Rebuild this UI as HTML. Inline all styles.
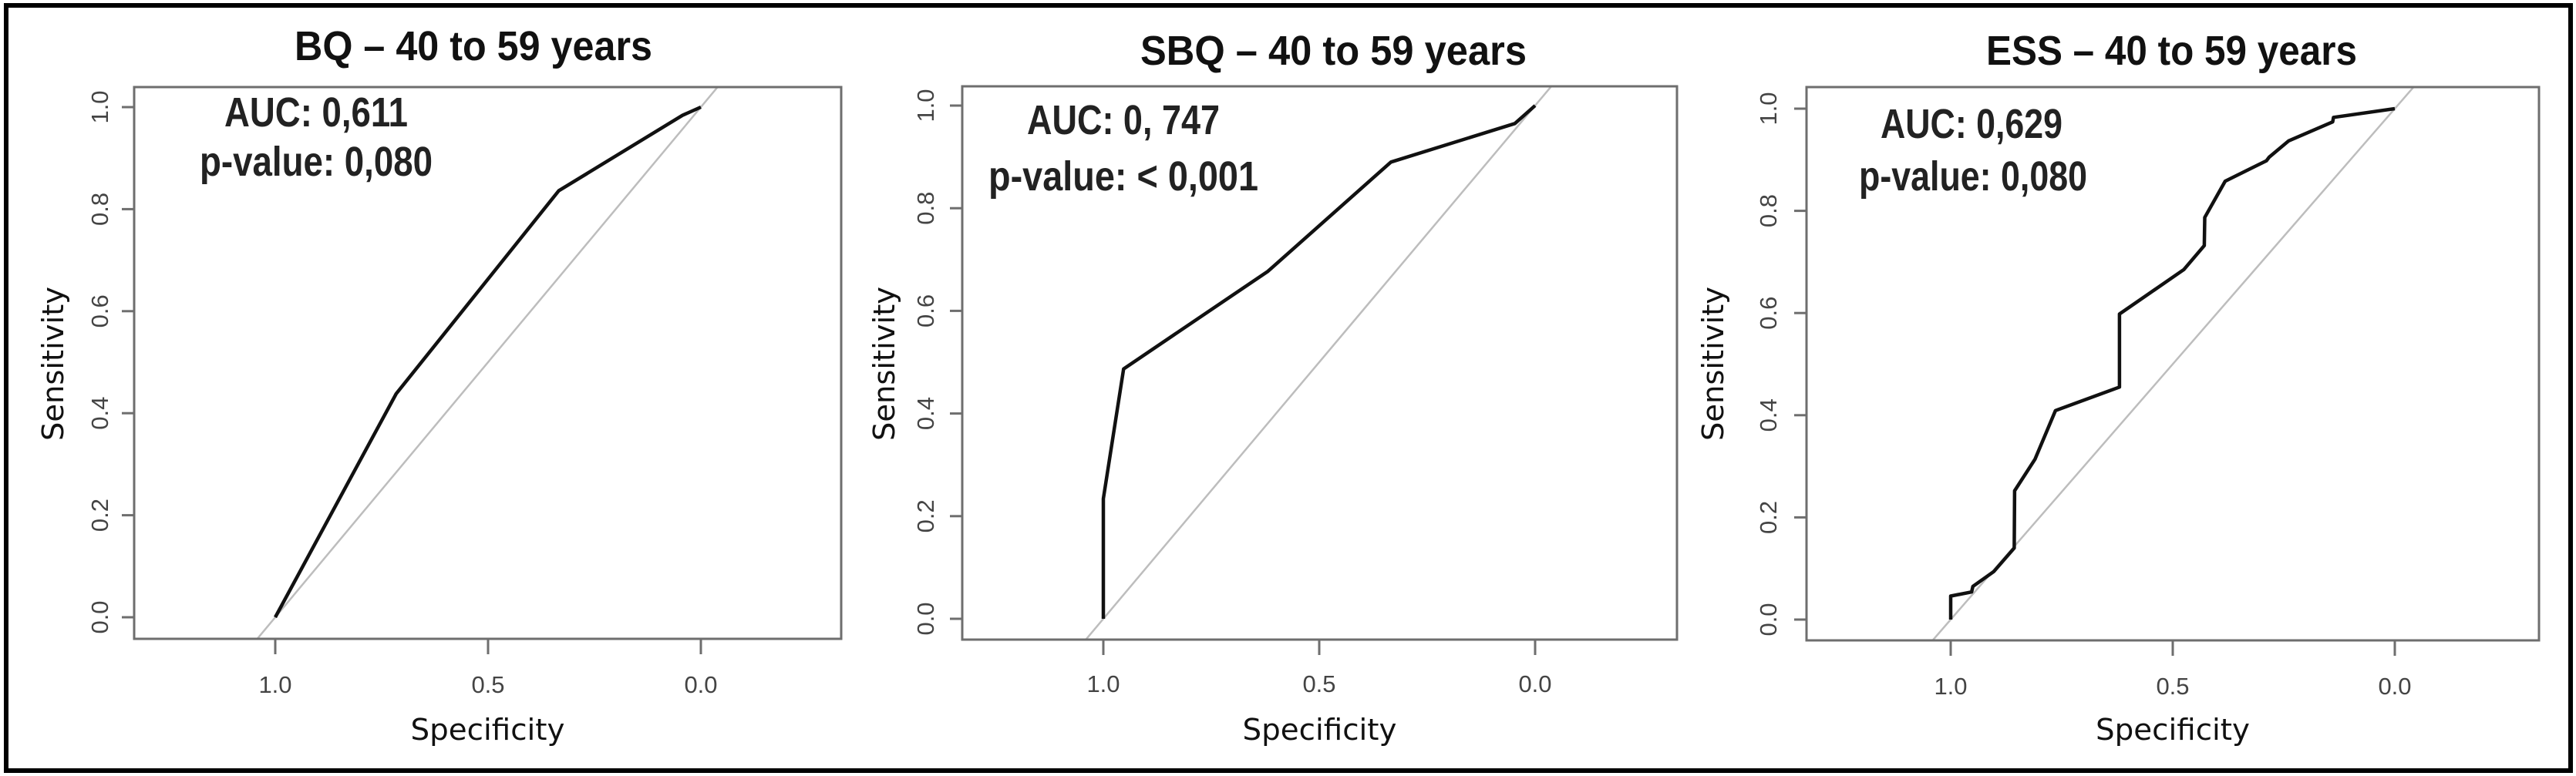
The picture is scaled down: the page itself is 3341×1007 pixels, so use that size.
<!DOCTYPE html>
<html><head><meta charset="utf-8">
<style>
html,body{margin:0;padding:0;background:#fff;}
svg{display:block;}
.title{font-family:"Liberation Sans Narrow","Liberation Sans",sans-serif;font-weight:bold;fill:#111;}
.ann{font-family:"Liberation Sans Narrow","Liberation Sans",sans-serif;font-weight:bold;fill:#222;}
.tick{font-family:"Liberation Sans",sans-serif;fill:#444;font-size:31px;}
.axt{font-family:"DejaVu Sans","Liberation Sans",sans-serif;fill:#111;font-size:38px;}
</style></head>
<body>
<svg id="fig" width="3341" height="1007" viewBox="0 0 3341 1007" xmlns="http://www.w3.org/2000/svg">
<rect x="8" y="7" width="3326" height="993" fill="none" stroke="#000" stroke-width="6"/>
</svg>
<script>
// Panel 1: BQ
const bqSpec = [1, 0.716, 0.334, 0.043, 0];
const bqSens = [0, 0.438, 0.836, 0.984, 1];
// Panel 2: SBQ
const sbqSpec = [1, 1, 0.953, 0.619, 0.334, 0.047, 0];
const sbqSens = [0, 0.234, 0.487, 0.677, 0.890, 0.965, 1];
// Panel 3: ESS
const essSpec = [1,1,0.953,0.950,0.903,0.857,0.856,0.810,0.764,0.620,0.620,0.475,0.429,0.428,0.382,0.289,0.283,0.239,0.140,0.138,0];
const essSens = [0,0.046,0.054,0.065,0.094,0.140,0.252,0.314,0.409,0.455,0.598,0.685,0.732,0.787,0.858,0.898,0.905,0.937,0.974,0.983,1];
const xTicks = [1.0, 0.5, 0.0];
const xTickLabels = ["1.0","0.5","0.0"];
const yTicks = [0, 0.2, 0.4, 0.6, 0.8, 1.0];
const yTickLabels = ["0.0","0.2","0.4","0.6","0.8","1.0"];
const titles = ["BQ \u2013 40 to 59 years","SBQ \u2013 40 to 59 years","ESS \u2013 40 to 59 years"];
const aucLabels = ["AUC: 0,611","AUC: 0, 747","AUC: 0,629"];
const pLabels = ["p-value: 0,080","p-value: < 0,001","p-value: 0,080"];

const NS="http://www.w3.org/2000/svg";
const svg=document.getElementById('fig');
function mk(tag,attrs,parent){const e=document.createElementNS(NS,tag);for(const k in attrs)e.setAttribute(k,attrs[k]);(parent||svg).appendChild(e);return e;}

const layouts=[
 {box:[174,113,1091,829],x1:357,x0:909,y1:139,y0:801,title:[382,846,78],auc:[291,529,164],p:[259,561,228],ytx:140,sens:82,xb:899,spec:960,key:'bq'},
 {box:[1248,112,2175,830],x1:1431,x0:1991,y1:137,y0:803,title:[1479,1980,84],auc:[1332,1582,174],p:[1282,1632,247],ytx:1211,sens:1160,xb:898,spec:960,key:'sbq'},
 {box:[2343,113,3293,831],x1:2530,x0:3106,y1:141,y0:804,title:[2576,3057,84],auc:[2439,2675,179],p:[2411,2707,247],ytx:2304,sens:2235,xb:901,spec:960,key:'ess'}
];
const specs=[bqSpec,sbqSpec,essSpec], senss=[bqSens,sbqSens,essSens];

layouts.forEach((L,i)=>{
  const g=mk('g',{});
  
  
  const xs=v=>L.x0+(L.x1-L.x0)*v;
  const ys=v=>L.y0-(L.y0-L.y1)*v;
  const [bl,bt,br,bb]=L.box;
  const t=mk('text',{class:'title',x:L.title[0],y:L.title[2],textLength:L.title[1]-L.title[0],lengthAdjust:'spacingAndGlyphs','font-size':54},g);
  t.textContent=titles[i];
  
  
  const cp=mk('clipPath',{id:'clip'+i},g);
  mk('rect',{x:bl,y:bt,width:br-bl,height:bb-bt},cp);
  const d=mk('line',{x1:xs(1.2),y1:ys(-0.2),x2:xs(-0.2),y2:ys(1.2),stroke:'#bdbdbd','stroke-width':2.5,'clip-path':'url(#clip'+i+')'},g);
  
  
  const pts=specs[i].map((s,j)=>xs(s).toFixed(1)+','+ys(senss[i][j]).toFixed(1)).join(' ');
  const c=mk('polyline',{points:pts,fill:'none',stroke:'#111','stroke-width':4.5,'stroke-linejoin':'round'},g);
  
  
  const b=mk('rect',{x:bl,y:bt,width:br-bl,height:bb-bt,fill:'none',stroke:'#6e6e6e','stroke-width':3},g);
  
  
  yTicks.forEach((v,k)=>{
    mk('line',{x1:bl-16,x2:bl,y1:ys(v),y2:ys(v),stroke:'#6e6e6e','stroke-width':3},g);
    const tl=mk('text',{class:'tick',x:0,y:0,'text-anchor':'middle',transform:`translate(${L.ytx},${ys(v)}) rotate(-90)`},g);
    tl.textContent=yTickLabels[k];
    
    
  });
  xTicks.forEach((v,k)=>{
    mk('line',{x1:xs(v),x2:xs(v),y1:bb,y2:bb+20,stroke:'#6e6e6e','stroke-width':3},g);
    const tl=mk('text',{class:'tick',x:xs(v),y:L.xb,'text-anchor':'middle'},g);
    tl.textContent=xTickLabels[k];
    
    
  });
  const cx=(bl+br)/2;
  const st=mk('text',{class:'axt',x:cx-100,y:L.spec,textLength:200,lengthAdjust:'spacingAndGlyphs'},g);
  st.textContent='Specificity';
  
  
  const se=mk('text',{class:'axt',x:-100,y:0,textLength:200,lengthAdjust:'spacingAndGlyphs',transform:`translate(${L.sens},472) rotate(-90)`},g);
  se.textContent='Sensitivity';
  
  
  const a=mk('text',{class:'ann',x:L.auc[0],y:L.auc[2],textLength:L.auc[1]-L.auc[0],lengthAdjust:'spacingAndGlyphs','font-size':54},g);
  a.textContent=aucLabels[i];
  
  
  const p=mk('text',{class:'ann',x:L.p[0],y:L.p[2],textLength:L.p[1]-L.p[0],lengthAdjust:'spacingAndGlyphs','font-size':54},g);
  p.textContent=pLabels[i];
  
  
});
</script>
</body></html>
